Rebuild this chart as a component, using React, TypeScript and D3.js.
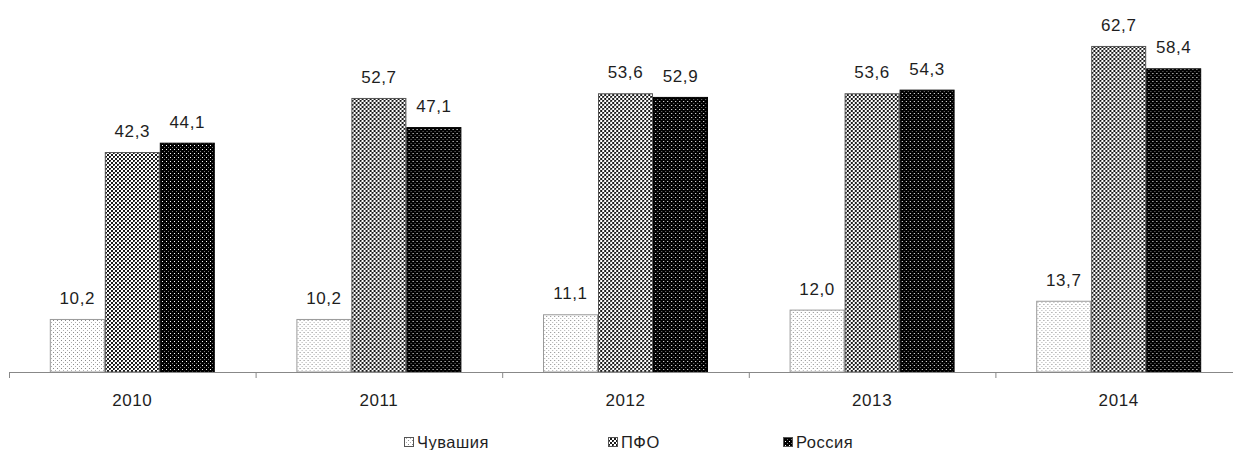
import React from "react";
import * as d3 from "d3";

// Years on the category axis
const years = ["2010", "2011", "2012", "2013", "2014"];
// Series names (legend order)
const seriesNames = ["Чувашия", "ПФО", "Россия"];
// Values per series, one per year
const chuvashia = [10.2, 10.2, 11.1, 12.0, 13.7];
const pfo = [42.3, 52.7, 53.6, 53.6, 62.7];
const russia = [44.1, 47.1, 52.9, 54.3, 58.4];

const seriesValues = [chuvashia, pfo, russia];

const W = 1233;
const H = 450;
const AXIS_Y = 372;
const X0 = 9;
const STEP = 246.6;

const patternIds = ["pat-chuv", "pat-pfo", "pat-rus"];
const strokes = ["#9a9a9a", "#555", "#000"];

const fmt = (v: number) => v.toFixed(1).replace(".", ",");

export default function App() {
  const x0 = d3
    .scaleBand<string>()
    .domain(years)
    .range([X0, X0 + STEP * years.length])
    .padding(0);
  const x1 = d3
    .scaleBand<string>()
    .domain(seriesNames)
    .range([0, x0.bandwidth()])
    .paddingInner(0)
    .paddingOuter(0.742);
  const y = d3.scaleLinear().domain([0, 70]).range([AXIS_Y, AXIS_Y - 70 * 5.2]);

  const font = "'Liberation Sans', Arial, sans-serif";
  const textColor = "#1e1e1e";

  const legendItems = [
    { name: seriesNames[0], x: 404 },
    { name: seriesNames[1], x: 608 },
    { name: seriesNames[2], x: 783 },
  ];

  return (
    <div style={{ position: "absolute", left: 0, top: 0 }}>
      <svg width={W} height={H} style={{ display: "block", background: "#fff" }}>
        <defs>
          <pattern id="pat-chuv" width={4} height={4} patternUnits="userSpaceOnUse">
            <rect width={4} height={4} fill="#fff" />
            <rect x={0} y={0} width={1} height={1} fill="#8a8a8a" />
            <rect x={2} y={2} width={1} height={1} fill="#b0b0b0" />
          </pattern>
          <pattern id="pat-pfo" width={4} height={4} patternUnits="userSpaceOnUse">
            <rect width={4} height={4} fill="#fff" />
            <rect x={0} y={0} width={2} height={2} fill="#1a1a1a" />
            <rect x={2} y={2} width={2} height={2} fill="#1a1a1a" />
            <rect x={1} y={1} width={1} height={1} fill="#666" />
          </pattern>
          <pattern id="pat-rus" width={4} height={4} patternUnits="userSpaceOnUse">
            <rect width={4} height={4} fill="#000" />
            <rect x={1} y={1} width={1} height={1} fill="#fff" />
            <rect x={3} y={3} width={1} height={1} fill="#777" />
          </pattern>
        </defs>

        {/* bars */}
        {years.map((yr, i) => (
          <g key={yr} transform={`translate(${x0(yr)},0)`}>
            {seriesNames.map((s, j) => {
              const v = seriesValues[j][i];
              const bx = x1(s)!;
              const by = y(v);
              return (
                <g key={s}>
                  <rect
                    x={bx + 0.5}
                    y={by + 0.5}
                    width={x1.bandwidth() - 1}
                    height={AXIS_Y - by - 0.5}
                    fill={`url(#${patternIds[j]})`}
                    stroke={strokes[j]}
                    strokeWidth={1}
                  />
                  <text
                    x={bx + x1.bandwidth() / 2}
                    y={by - 15}
                    textAnchor="middle"
                    fontFamily={font}
                    fontSize={17}
                    letterSpacing={0.6}
                    fill={textColor}
                  >
                    {fmt(v)}
                  </text>
                </g>
              );
            })}
          </g>
        ))}

        {/* category axis */}
        <line x1={X0} x2={W} y1={AXIS_Y + 0.5} y2={AXIS_Y + 0.5} stroke="#888" strokeWidth={1} />
        {years.map((yr) => (
          <g key={yr}>
            <line
              x1={x0(yr)! + 0.5}
              x2={x0(yr)! + 0.5}
              y1={AXIS_Y}
              y2={AXIS_Y + 6}
              stroke="#888"
              strokeWidth={1}
            />
            <text
              x={x0(yr)! + x0.bandwidth() / 2}
              y={406}
              textAnchor="middle"
              fontFamily={font}
              fontSize={17}
              letterSpacing={0.6}
              fill={textColor}
            >
              {yr}
            </text>
          </g>
        ))}

        {/* legend */}
        {legendItems.map((it, j) => (
          <g key={it.name}>
            <rect
              x={it.x + 0.5}
              y={437.5}
              width={9}
              height={9}
              fill={`url(#${patternIds[j]})`}
              stroke="#555"
              strokeWidth={1}
            />
            <text
              x={it.x + 13}
              y={447.5}
              fontFamily={font}
              fontSize={16.5}
              letterSpacing={0.5}
              fill={textColor}
            >
              {it.name}
            </text>
          </g>
        ))}
      </svg>
    </div>
  );
}
